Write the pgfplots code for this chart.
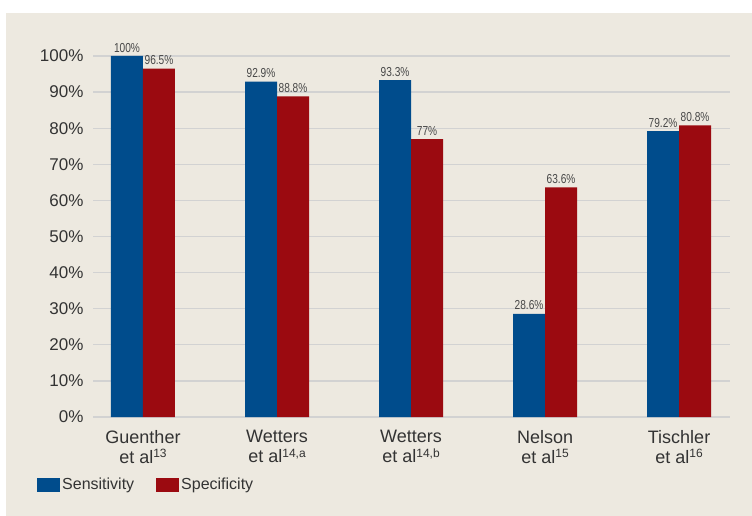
\documentclass[border=0pt]{standalone}
\usepackage{fontspec}
\setmainfont{Liberation Sans}
\usepackage{graphicx}
\usepackage{pgfplots}
\pgfplotsset{compat=1.18}
\definecolor{bg}{HTML}{EDE9E0}
\definecolor{sens}{HTML}{004C8C}
\definecolor{spec}{HTML}{9B0A10}
\definecolor{gridc}{HTML}{D2D2D2}
\definecolor{txt}{HTML}{333333}
\newcommand{\refsup}[1]{\raisebox{0.62ex}{\fontsize{12}{12}\selectfont #1}}
\begin{document}
\begin{tikzpicture}[x=1pt,y=1pt]
\useasboundingbox (0,0) rectangle (752,515);
\fill[white] (-5,-5) rectangle (757,520);
\fill[bg] (6,-5) rectangle (757,502);
\begin{axis}[at={(93pt,98pt)}, anchor=south west, scale only axis,
  width=637pt, height=361pt,
  xmin=-0.373, xmax=4.38, ymin=0, ymax=100,
  ybar=0pt, bar width=32pt,
  /pgf/number format/assume math mode=true,
  axis line style={draw=none}, major tick length=0pt,
  ytick={0,10,...,100},
  yticklabel={\pgfmathprintnumber{\tick}\%},
  yticklabel style={font=\fontsize{17}{20}\selectfont, text=txt, xshift=-6pt},
  ymajorgrids, grid style={gridc, line width=1.2pt},
  xtick={0,1,2,3,4},
  xticklabels={{Guenther\\et al\refsup{13}},{Wetters\\et al\refsup{14,a}},{Wetters\\et al\refsup{14,b}},{Nelson\\et al\refsup{15}},{Tischler\\et al\refsup{16}}},
  xticklabel style={align=center, font=\fontsize{18}{20}\selectfont, text=txt, yshift=-10pt},
  nodes near coords={\scalebox{0.78}[1]{\pgfmathprintnumber{\pgfplotspointmeta}\%}},
  nodes near coords style={font=\fontsize{13}{14}\selectfont, text=txt!90, inner sep=3.5pt},
  legend style={at={(-0.0879,-0.188)}, anchor=west, draw=none, fill=none, inner sep=0pt,
    font=\fontsize{16}{18}\selectfont, text=txt,
    /tikz/every even column/.append style={column sep=20pt}},
  legend columns=2,
  legend image code/.code={\fill[#1,draw=none] (0pt,-7pt) rectangle (23pt,7pt);},
]
\addplot[fill=sens, draw=none] coordinates {(0,100) (1,92.9) (2,93.3) (3,28.6) (4,79.2)};
\addplot[fill=spec, draw=none] coordinates {(0,96.5) (1,88.8) (2,77) (3,63.6) (4,80.8)};
\legend{Sensitivity, Specificity}
\end{axis}
\end{tikzpicture}
\end{document}
